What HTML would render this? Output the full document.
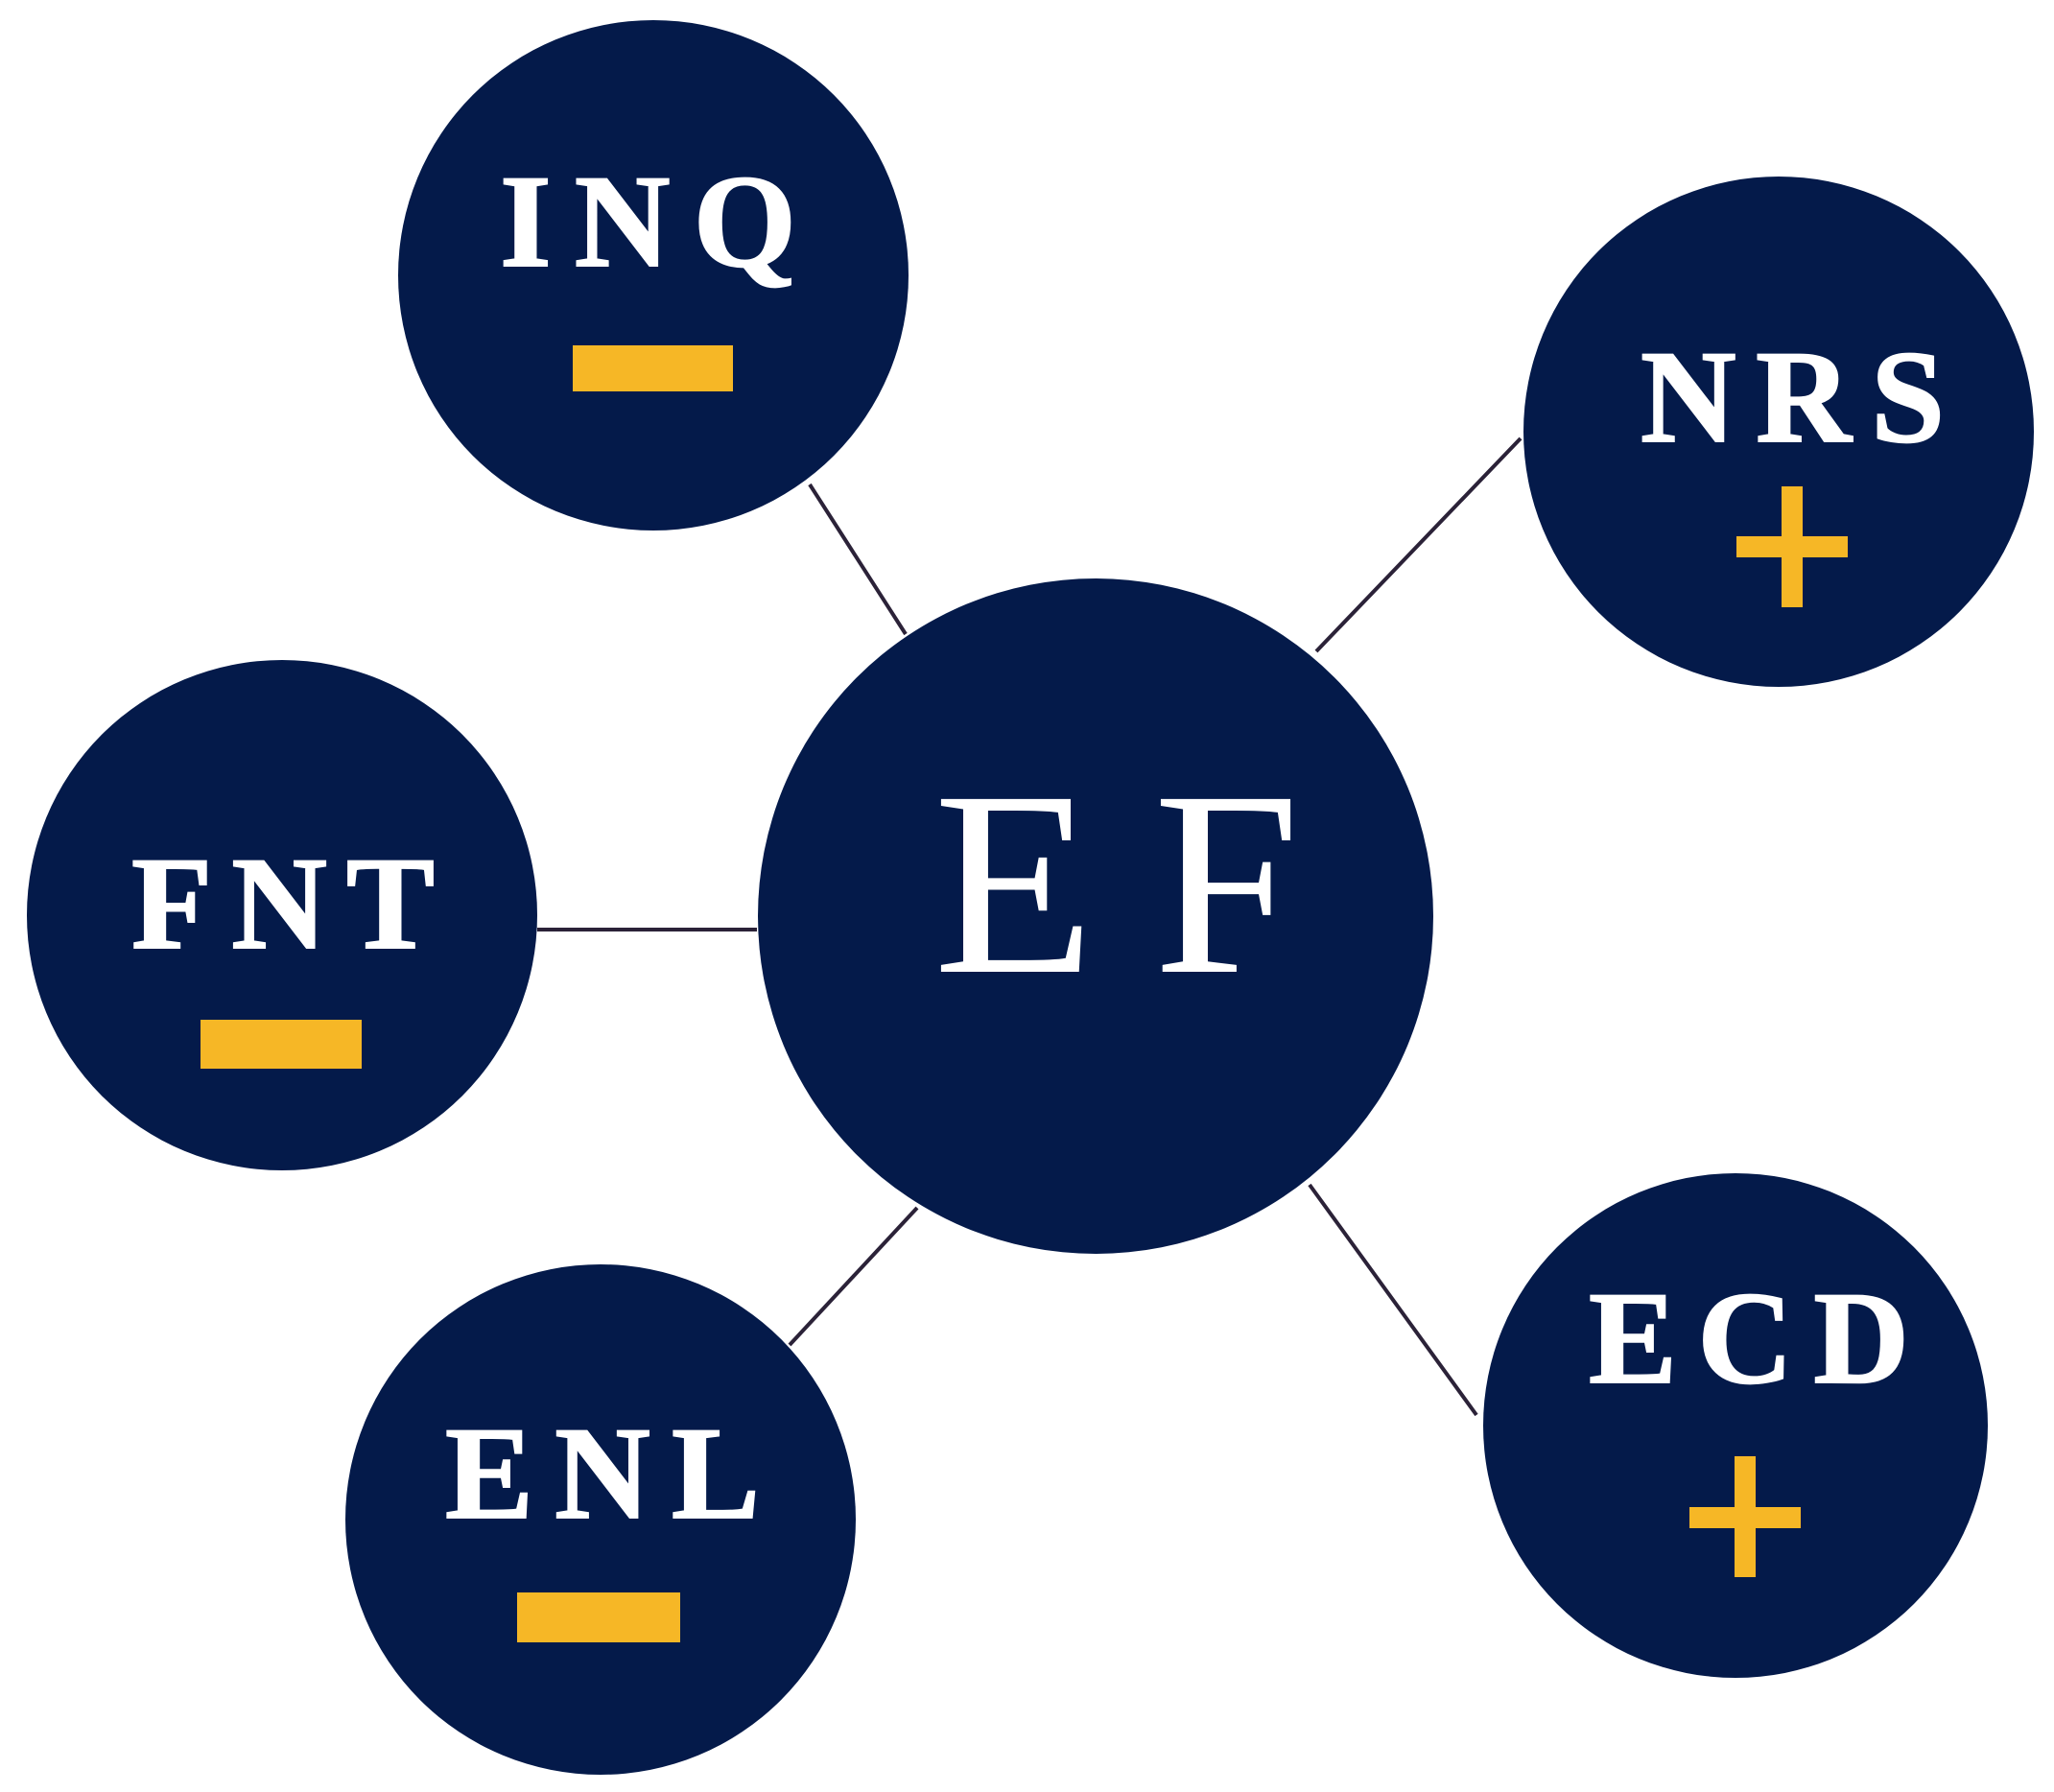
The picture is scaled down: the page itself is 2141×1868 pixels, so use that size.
<!DOCTYPE html>
<html><head><meta charset="utf-8"><style>html,body{margin:0;padding:0;background:#fff}svg{display:block}text{font-family:"Liberation Serif","Times New Roman",serif}</style></head>
<body>
<svg width="2141" height="1868" viewBox="0 0 2141 1868" xmlns="http://www.w3.org/2000/svg">
<g stroke="#2b2238" stroke-width="4">
<line x1="844" y1="505" x2="944" y2="661"/>
<line x1="1585" y1="457" x2="1372" y2="679"/>
<line x1="560" y1="969" x2="789" y2="969"/>
<line x1="823" y1="1402" x2="956" y2="1259"/>
<line x1="1365" y1="1235" x2="1539" y2="1475"/>
</g>
<g fill="#041a4a">
<circle cx="1142" cy="955" r="352"/>
<circle cx="681" cy="287" r="266"/>
<circle cx="1854" cy="450" r="266"/>
<circle cx="294" cy="954" r="266"/>
<circle cx="626" cy="1584" r="266"/>
<circle cx="1809" cy="1486" r="263"/>
</g>
<g fill="#fff" stroke="#fff" stroke-width="2" font-weight="bold" font-size="138">
<text x="521" y="277" textLength="309" lengthAdjust="spacing">INQ</text>
<text x="1710" y="460" textLength="317" lengthAdjust="spacing">NRS</text>
<text x="137" y="988" textLength="316" lengthAdjust="spacing">FNT</text>
<text x="464" y="1582" textLength="328" lengthAdjust="spacing">ENL</text>
<text x="1656" y="1441" textLength="334" lengthAdjust="spacing">ECD</text>
</g>
<text x="973" y="1013" fill="#fff" font-size="275" textLength="382" lengthAdjust="spacing">EF</text>
<g fill="#f6b726">
<rect x="597" y="360" width="167" height="48"/>
<rect x="209" y="1063" width="168" height="51"/>
<rect x="539" y="1660" width="170" height="52"/>
<rect x="1810" y="559" width="116" height="22"/>
<rect x="1857" y="507" width="22" height="126"/>
<rect x="1761" y="1571" width="116" height="22"/>
<rect x="1808" y="1518" width="22" height="126"/>
</g>
</svg>
</body></html>
